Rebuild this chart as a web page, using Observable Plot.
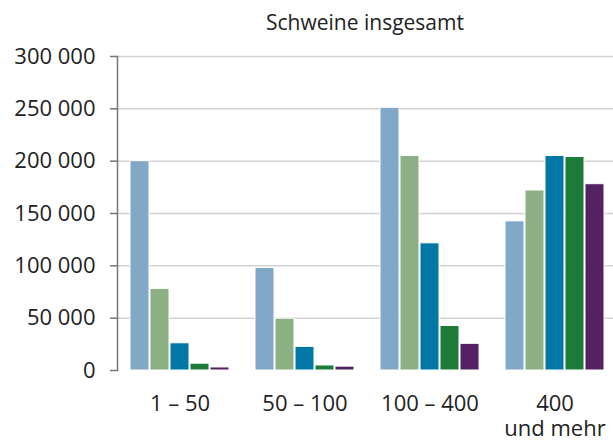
<!DOCTYPE html>
<html>
<head>
<meta charset="utf-8">
<script src="https://cdn.jsdelivr.net/npm/d3@7"></script>
<script src="https://cdn.jsdelivr.net/npm/@observablehq/plot@0.6"></script>
<style>
  html, body { margin: 0; padding: 0; background: white; overflow: hidden; }
  #wrap { position: relative; width: 613px; height: 441px; }
  #title { position: absolute; top: 12px; left: 117px; width: 496px; text-align: center;
           font-family: 'Open Sans', sans-serif; font-size: 21px; line-height: 21px; color: #222; }
  #chart { position: absolute; top: 0; left: 0; }
</style>
</head>
<body>
<div id="wrap">
  <div id="chart"></div>
  <div id="title">Schweine insgesamt</div>
</div>
<script>
const groups = ["1 – 50", "50 – 100", "100 – 400", "400 und mehr"];
const groupLabels = ["1 – 50", "50 – 100", "100 – 400", "400\nund mehr"];
const series = ["Reihe 1", "Reihe 2", "Reihe 3", "Reihe 4", "Reihe 5"];
const reihe1 = [200000, 98000, 251000, 142500];
const reihe2 = [78000, 49500, 205000, 172000];
const reihe3 = [26000, 22500, 121500, 205000];
const reihe4 = [6500, 4800, 42500, 204000];
const reihe5 = [2900, 3700, 25500, 178000];
const colors = ["#82a8c8", "#8caf83", "#0077a5", "#1b7b37", "#542263"];
const yTicks = [0, 50000, 100000, 150000, 200000, 250000, 300000];

const seriesValues = [reihe1, reihe2, reihe3, reihe4, reihe5];
const data = [];
groups.forEach((g, gi) => {
  series.forEach((s, si) => {
    data.push({group: g, series: s, value: seriesValues[si][gi]});
  });
});

const fmt = d => d3.format(",")(d).replace(/,/g, " ");

const chart = Plot.plot({
  width: 613,
  height: 441,
  marginTop: 56,
  marginBottom: 71,
  marginLeft: 117,
  marginRight: -4,
  style: {fontFamily: "'Open Sans', sans-serif", fontSize: "22px", color: "#222", background: "white"},
  fx: {domain: groups, paddingInner: 0.176, paddingOuter: 0.088, label: null},
  x: {domain: series, paddingInner: 0.07, paddingOuter: 0, axis: null},
  y: {domain: [0, 300000], label: null},
  color: {domain: series, range: colors},
  marks: [
    Plot.ruleY(yTicks.slice(1), {stroke: "#d2d2d2", strokeWidth: 1.5, insetLeft: -11, insetRight: -11}),
    Plot.barY(data, {fx: "group", x: "series", y: "value", fill: "series", stroke: "white", strokeWidth: 1}),
    Plot.axisY({ticks: yTicks, tickFormat: fmt, tickSize: 7, tickPadding: 15, stroke: "#777", fill: "#222", strokeWidth: 1.5, fontSize: 22, label: null, dx: -11}),
    Plot.axisFx({anchor: "bottom", tickSize: 0, tickPadding: 23, tickFormat: d => groupLabels[groups.indexOf(d)], lineHeight: 1.14, fontSize: 22, fill: "#222", label: null}),
    Plot.frame({anchor: "left", facetAnchor: "left", stroke: "#777", strokeWidth: 1.5, dx: -11})
  ]
});
document.getElementById("chart").appendChild(chart);
</script>
</body>
</html>
